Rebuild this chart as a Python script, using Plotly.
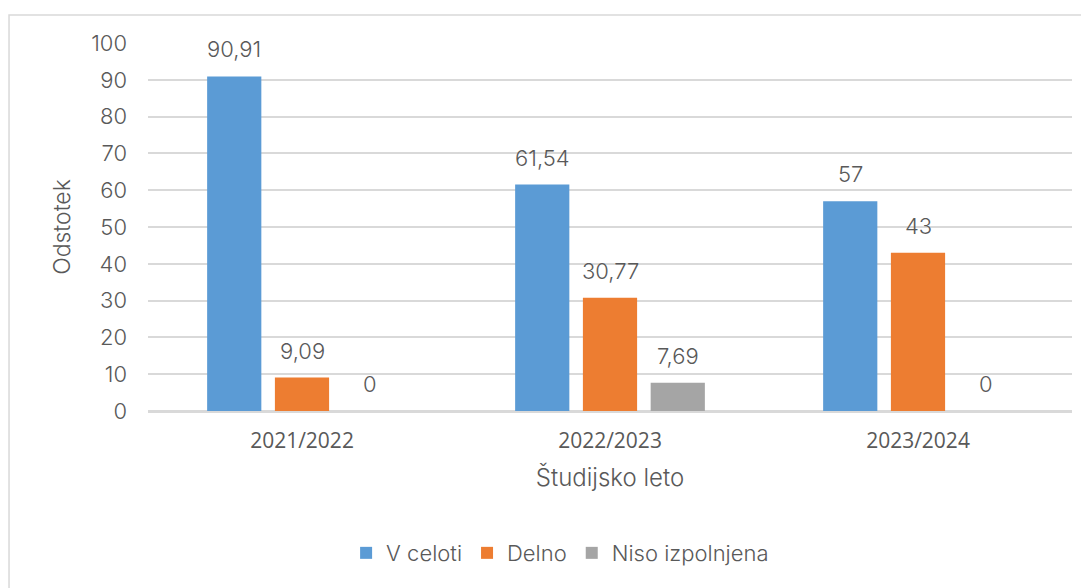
import plotly.graph_objects as go

# data
years = ["2021/2022", "2022/2023", "2023/2024"]
series_names = ["V celoti", "Delno", "Niso izpolnjena"]
v_celoti = [90.91, 61.54, 57]
delno = [9.09, 30.77, 43]
niso = [0, 7.69, 0]

colors = ["#5B9BD5", "#ED7D31", "#A5A5A5"]
text_col = "#595959"
grid_col = "#D9D9D9"
num_font = "Inter"
wt = 300

values = [v_celoti, delno, niso]

fig = go.Figure()
for name, vals, col in zip(series_names, values, colors):
    fig.add_trace(go.Bar(x=years, y=vals, name=name, marker_color=col,
                         marker_line_width=0))

# data labels above the bars (decimal comma, like the original)
slot = 68  # px between bar centres in a group
for i, vals in enumerate(values):
    for yr, v in zip(years, vals):
        fig.add_annotation(x=yr, y=v, text=("%g" % v).replace(".", ","),
                           showarrow=False, xshift=(i - 1) * slot, yshift=27,
                           yanchor="middle",
                           font=dict(family=num_font, size=22, color=text_col, weight=wt))

# light grey chart border (right/bottom edges fall outside the picture)
fig.add_shape(type="rect", xref="paper", yref="paper",
              x0=-0.1504, x1=1.03, y0=-0.55, y1=1.076,
              line=dict(color=grid_col, width=1.5), layer="below")

fig.update_layout(
    width=1081, height=580,
    margin=dict(l=140, r=17, t=35, b=177),
    paper_bgcolor="white", plot_bgcolor="white",
    barmode="group", bargap=0.34, bargroupgap=0.2,
    showlegend=True,
    legend=dict(orientation="h", x=0.446, y=-0.386, xanchor="center",
                yanchor="middle",
                font=dict(family=num_font, size=22, color=text_col, weight=wt),
                itemclick=False),
)
fig.update_xaxes(
    showline=True, linecolor=grid_col, linewidth=1.5,
    tickfont=dict(family="Open Sans", size=21, color=text_col),
    ticklabelstandoff=10,
    title=dict(text="Študijsko leto", standoff=16,
               font=dict(family=num_font, size=24, color=text_col, weight=wt)),
)
fig.update_yaxes(
    range=[0, 100], dtick=10,
    showgrid=True, gridcolor=grid_col, gridwidth=1.5,
    zeroline=True, zerolinecolor=grid_col, zerolinewidth=1.5,
    tickfont=dict(family=num_font, size=22, color=text_col, weight=wt),
    ticklabelstandoff=20,
    title=dict(text="Odstotek", standoff=14,
               font=dict(family=num_font, size=23, color=text_col, weight=wt)),
)

fig.write_html("out.html")
